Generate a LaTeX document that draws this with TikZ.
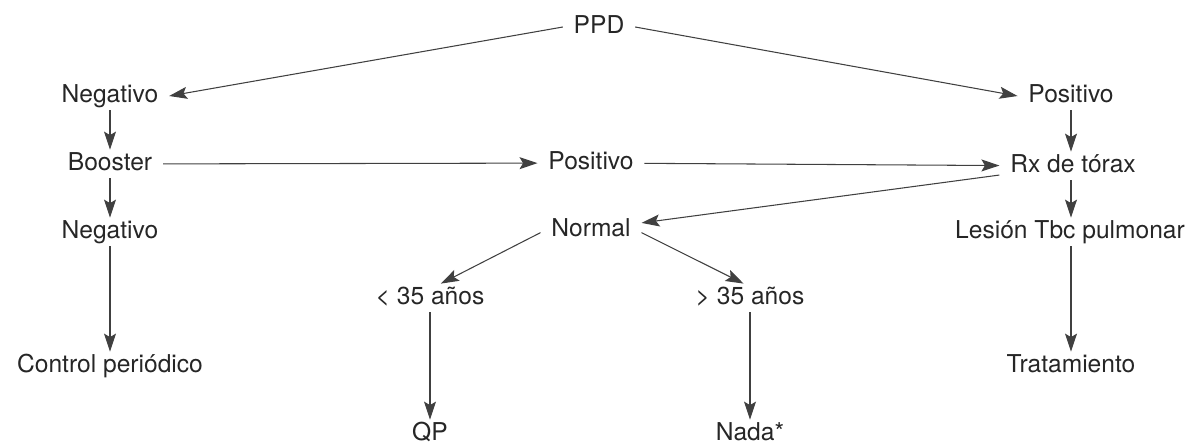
\documentclass[tikz,border=0pt]{standalone}
\usepackage{fontspec}
\setmainfont{TeX Gyre Heros}
\usetikzlibrary{arrows.meta}

\begin{document}
\begin{tikzpicture}[x=0.02cm, y=-0.02cm,
	caja/.style={text=black!85, font=\fontsize{14}{16}\selectfont, text height=10pt, text depth=3pt, inner xsep=6pt, inner ysep=1.5pt},
	flecha/.style={-{Stealth[length=3.6mm, width=2.4mm, inset=0.7mm]}, line width=0.6pt, draw=black!75}]
	\useasboundingbox (0,0) rectangle (1189,443);
	\node[caja] (PPD) at (599, 27) {PPD};
	\node[caja] (Neg1) at (110, 96) {Negativo};
	\node[caja] (Pos1) at (1071, 96) {Positivo};
	\node[caja] (Boo) at (110, 164) {Booster};
	\node[caja] (Pos2) at (591, 163) {Positivo};
	\node[caja] (Rx) at (1073, 166) {Rx de tórax};
	\node[caja] (Neg2) at (110, 232) {Negativo};
	\node[caja] (Nor) at (591, 230) {Normal};
	\node[caja] (Les) at (1070, 232) {Lesión Tbc pulmonar};
	\node[caja] (Men) at (430, 298) {< 35 años};
	\node[caja] (May) at (750, 298) {> 35 años};
	\node[caja] (Ctl) at (110, 366) {Control periódico};
	\node[caja] (Tra) at (1071, 366) {Tratamiento};
	\node[caja] (QP) at (430, 434) {QP};
	\node[caja] (Nad) at (750, 434) {Nada*};
	% PPD
	\draw[flecha] (PPD.west) -- (Neg1.east);
	\draw[flecha] (PPD.east) -- (Pos1.west);
	% rama negativa
	\draw[flecha] (Neg1) -- (Boo);
	\draw[flecha] (Boo) -- (Neg2);
	\draw[flecha] (Neg2) -- (Ctl);
	\draw[flecha] (Boo) -- (Pos2);
	\draw[flecha] (Pos2) -- (Rx);
	% rama positiva
	\draw[flecha] (Pos1.south) -- (Pos1.south |- Rx.north);
	\draw[flecha] (Rx.south -| Pos1.south) -- (Pos1.south |- Les.north);
	\draw[flecha] (Les.south -| Pos1.south) -- (Pos1.south |- Tra.north);
	\draw[flecha] (Rx.187) -- (Nor.8);
	\draw[flecha] (Nor.183) -- (Men.53);
	\draw[flecha] (Nor.-3) -- (May.114);
	\draw[flecha] (Men) -- (QP);
	\draw[flecha] (May) -- (Nad);
\end{tikzpicture}
\end{document}
